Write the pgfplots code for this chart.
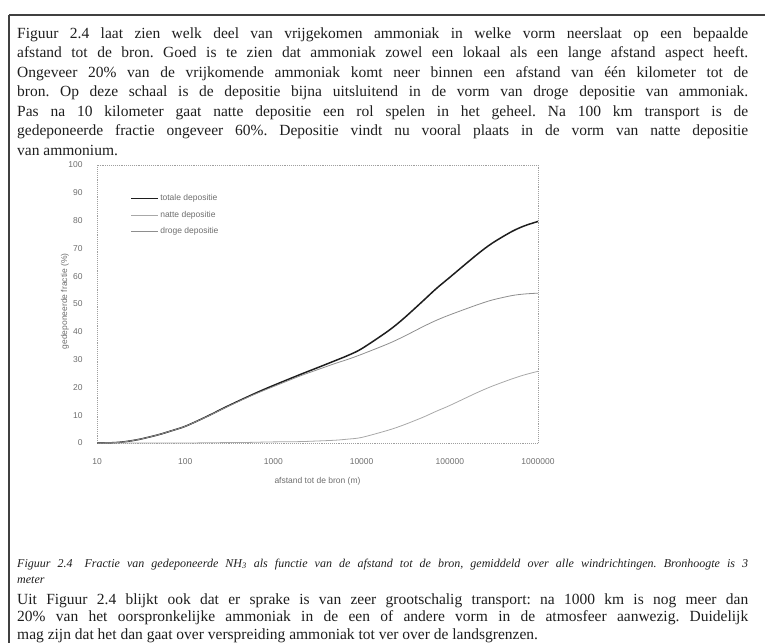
\documentclass[border=0pt]{standalone}
\usepackage{fontspec}
\setmainfont{Liberation Serif}
\newfontfamily\chartfont{Liberation Sans}
\usepackage{pgfplots}
\usepackage{pgfplotstable}
\pgfplotsset{compat=1.18}
\frenchspacing
\definecolor{ink}{HTML}{1E1E1E}
\definecolor{chtxt}{HTML}{6E6E6E}
\definecolor{dryc}{HTML}{8E8E8E}
\definecolor{wetc}{HTML}{A8A8A8}
\pgfplotstableread{
x total dry wet
10 0 0 0
15 0.1 0.1 0
20 0.4 0.4 0
30 1.3 1.3 0
50 3.0 3.0 0
70 4.4 4.4 0
100 6.0 6.0 0
150 8.5 8.45 0.05
200 10.4 10.3 0.1
300 13.2 13.05 0.15
500 16.5 16.3 0.2
700 18.6 18.3 0.3
1000 20.7 20.3 0.4
2000 24.6 24.1 0.5
3000 26.8 26.1 0.7
5000 29.6 28.6 1.0
7000 31.5 30.1 1.4
10000 33.9 31.9 2.0
20000 40.3 35.7 4.6
30000 44.8 38.3 6.5
50000 51.2 41.9 9.3
70000 55.5 44.1 11.4
100000 59.6 46.1 13.5
200000 67.6 49.6 18.0
300000 71.8 51.4 20.4
500000 76.0 53.0 23.0
700000 78.1 53.6 24.5
1000000 79.7 53.9 25.8
}\depdata
\newcommand{\bodyfs}{\fontsize{15.5bp}{19.5bp}\selectfont}
\newcommand{\capfs}{\fontsize{12bp}{15bp}\selectfont\itshape}
\newcommand{\chfs}{\chartfont\fontsize{8.5bp}{10bp}\selectfont}
\begin{document}
\begin{tikzpicture}
\useasboundingbox (0,0) rectangle (765bp,-643bp);
\begin{scope}[x=1bp,y=-1bp]
\draw[ink!85, line width=1.8bp] (9,15) -- (765,15);
\draw[ink!85, line width=1.8bp] (9,15) -- (9,643);
\begin{scope}[every node/.style={anchor=base west, inner sep=0pt, text=ink, font=\bodyfs}]
\node at (17,38) {\makebox[731bp][s]{Figuur 2.4 laat zien welk deel van vrijgekomen ammoniak in welke vorm neerslaat op een bepaalde}};
\node at (17,57.5) {\makebox[731bp][s]{afstand tot de bron. Goed is te zien dat ammoniak zowel een lokaal als een lange afstand aspect heeft.}};
\node at (17,77) {\makebox[731bp][s]{Ongeveer 20\% van de vrijkomende ammoniak komt neer binnen een afstand van één kilometer tot de}};
\node at (17,96.5) {\makebox[731bp][s]{bron. Op deze schaal is de depositie bijna uitsluitend in de vorm van droge depositie van ammoniak.}};
\node at (17,116) {\makebox[731bp][s]{Pas na 10 kilometer gaat natte depositie een rol spelen in het geheel. Na 100 km transport is de}};
\node at (17,135.5) {\makebox[731bp][s]{gedeponeerde fractie ongeveer 60\%. Depositie vindt nu vooral plaats in de vorm van natte depositie}};
\node at (17,155) {van ammonium.};
\node at (17,604) {\makebox[731bp][s]{Uit Figuur 2.4 blijkt ook dat er sprake is van zeer grootschalig transport: na 1000 km is nog meer dan}};
\node at (17,621.5) {\makebox[731bp][s]{20\% van het oorspronkelijke ammoniak in de een of andere vorm in de atmosfeer aanwezig. Duidelijk}};
\node at (17,639) {mag zijn dat het dan gaat over verspreiding ammoniak tot ver over de landsgrenzen.};
\node[font=\capfs] at (17,567) {\makebox[731bp][s]{Figuur 2.4\quad Fractie van gedeponeerde NH\textsubscript{3} als functie van de afstand tot de bron, gemiddeld over alle windrichtingen. Bronhoogte is 3}};
\node[font=\capfs] at (17,583) {meter};
\end{scope}
\end{scope}
\begin{axis}[
  at={(97bp,-443bp)}, anchor=south west,
  scale only axis, width=441bp, height=278bp,
  xmode=log, xmin=10, xmax=1000000, ymin=0, ymax=100,
  xtick={10,100,1000,10000,100000,1000000},
  xticklabels={10,100,1000,10000,100000,1000000},
  ytick={0,10,20,30,40,50,60,70,80,90,100},
  yticklabels={0,10,20,30,40,50,60,70,80,90,100},
  xminorticks=false, yminorticks=false,
  tick style={draw=none},
  axis line style={draw=gray!75, densely dotted, line width=0.9bp},
  ticklabel style={font=\chfs, text=chtxt},
  xticklabel style={anchor=center, yshift=-19bp},
  yticklabel style={anchor=east, xshift=-11bp},
  xlabel={afstand tot de bron (m)},
  ylabel={gedeponeerde fractie (\%)},
  label style={font=\chfs, text=chtxt},
  xlabel style={at={(axis description cs:0.5,0)}, anchor=center, yshift=-38bp},
  ylabel style={at={(axis description cs:-0.073,0.51)}, anchor=center},
  legend cell align=left,
  legend style={draw=none, fill=none, at={(0.075,0.9)}, anchor=north west,
    font=\chfs, text=chtxt, row sep=6bp, inner sep=0pt,
    nodes={inner sep=1.5bp}},
  legend image code/.code={\draw[#1] (0bp,0bp) -- (27bp,0bp);},
]
\addplot[color=ink, line width=1.5bp, smooth] table[x=x, y=total] {\depdata};
\addlegendentry{totale depositie}
\addplot[color=wetc, line width=0.8bp, smooth] table[x=x, y=wet] {\depdata};
\addlegendentry{natte depositie}
\addplot[color=dryc, line width=0.8bp, smooth] table[x=x, y=dry] {\depdata};
\addlegendentry{droge depositie}
\end{axis}
\end{tikzpicture}
\end{document}
